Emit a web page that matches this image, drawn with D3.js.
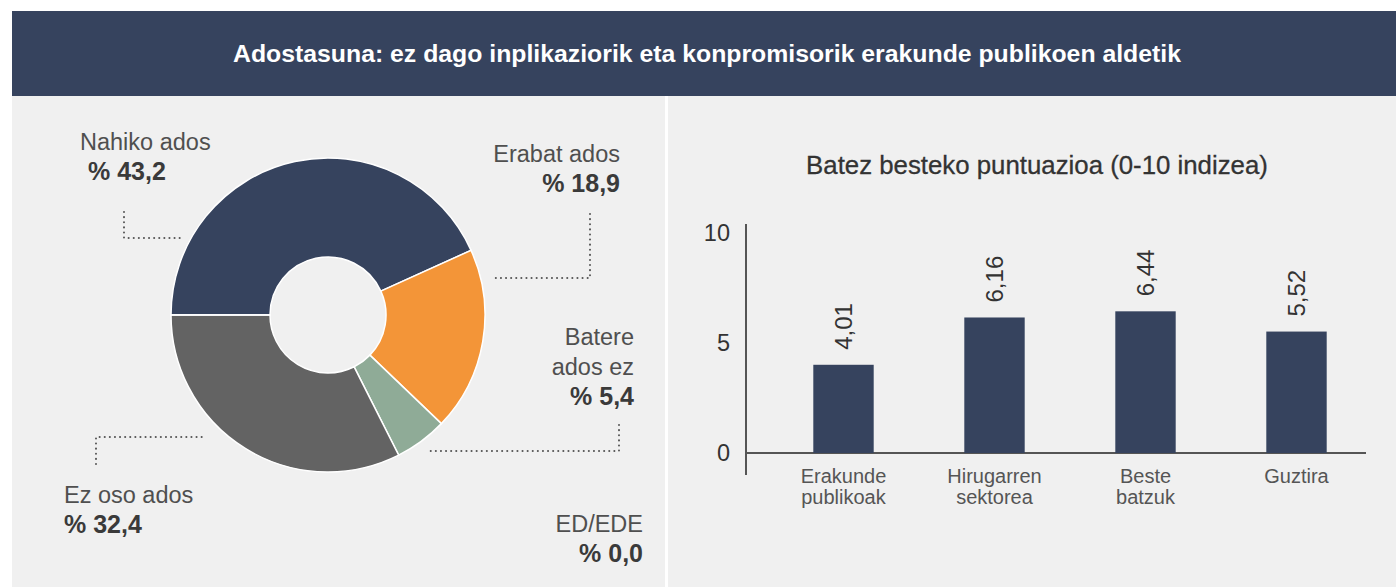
<!DOCTYPE html>
<html>
<head>
<meta charset="utf-8">
<script src="https://cdn.jsdelivr.net/npm/d3@7"></script>
<style>
  body { margin: 0; background: #fff; }
  svg text { font-family: "Liberation Sans", Arial, Helvetica, sans-serif; }
</style>
</head>
<body>
<div class="chart"></div>
<script>
var width = 1396, height = 587;

// --- data ---
var title = "Adostasuna: ez dago inplikaziorik eta konpromisorik erakunde publikoen aldetik";
var pieNames = ["Nahiko ados", "Erabat ados", "Batere ados ez", "Ez oso ados", "ED/EDE"];
var pieValues = [43.2, 18.9, 5.4, 32.4, 0.0];
var pieLabels = ["% 43,2", "% 18,9", "% 5,4", "% 32,4", "% 0,0"];
var pieColors = ["#36435e", "#f39538", "#8fab97", "#636363", "#cccccc"];

var barTitle = "Batez besteko puntuazioa (0-10 indizea)";
var barCats = ["Erakunde publikoak", "Hirugarren sektorea", "Beste batzuk", "Guztira"];
var barLines = [["Erakunde", "publikoak"], ["Hirugarren", "sektorea"], ["Beste", "batzuk"], ["Guztira"]];
var barValues = [4.01, 6.16, 6.44, 5.52];
var barTicks = [0, 5, 10];

var svg = d3.select(".chart")
  .append("svg")
  .attr("width", width)
  .attr("height", height);

// panels
svg.append("rect").attr("x", 12).attr("y", 96).attr("width", 653).attr("height", height - 96).attr("fill", "#f0f0f0");
svg.append("rect").attr("x", 668).attr("y", 96).attr("width", width - 668).attr("height", height - 96).attr("fill", "#f0f0f0");

// header
svg.append("rect").attr("x", 12).attr("y", 11).attr("width", width - 12).attr("height", 85).attr("fill", "#36435e");
svg.append("text")
  .attr("x", 707).attr("y", 62)
  .attr("text-anchor", "middle")
  .attr("fill", "#fff")
  .style("font-size", "24.8px")
  .style("font-weight", "bold")
  .text(title);

// --- pie ---
var cx = 328, cy = 315;
var pie = d3.pie().sort(null).value(function(d){ return d; })
  .startAngle(-Math.PI / 2).endAngle(Math.PI * 1.5);
var arc = d3.arc().innerRadius(58).outerRadius(157);

var pieG = svg.append("g").attr("transform", "translate(" + cx + "," + cy + ")");
pieG.selectAll("path")
  .data(pie(pieValues))
  .enter()
  .append("path")
  .attr("d", arc)
  .attr("fill", function(d, i){ return pieColors[i]; })
  .attr("stroke", "#fff")
  .attr("stroke-width", 1.5);

// labels: name lines, value, anchor
var pieText = [
  { lines: ["Nahiko ados"], x: 80, y: 150, anchor: "start", vx: 88 },
  { lines: ["Erabat ados"], x: 620, y: 162, anchor: "end", vx: 620 },
  { lines: ["Batere", "ados ez"], x: 634, y: 345, anchor: "end", vx: 634 },
  { lines: ["Ez oso ados"], x: 64, y: 503, anchor: "start", vx: 64 },
  { lines: ["ED/EDE"], x: 643, y: 532, anchor: "end", vx: 643 }
];
pieText.forEach(function(t, i){
  var g = svg.append("g");
  t.lines.forEach(function(l, j){
    g.append("text")
      .attr("x", t.x).attr("y", t.y + j * 30)
      .attr("text-anchor", t.anchor)
      .attr("fill", "#4f4f4f")
      .style("font-size", "23.5px")
      .text(l);
  });
  g.append("text")
    .attr("x", t.vx).attr("y", t.y + t.lines.length * 30)
    .attr("text-anchor", t.anchor)
    .attr("fill", "#3a3a3a")
    .style("font-size", "25px")
    .style("font-weight", "bold")
    .text(pieLabels[i]);
});

// dotted leader lines
var leaders = [
  [[124, 212], [124, 238], [180, 238]],
  [[590, 214], [590, 278], [494, 278]],
  [[619, 425], [619, 451], [428, 451]],
  [[96, 464], [96, 437], [203, 437]]
];
var line = d3.line();
svg.selectAll(".leader")
  .data(leaders)
  .enter()
  .append("path")
  .attr("class", "leader")
  .attr("d", line)
  .attr("fill", "none")
  .attr("stroke", "#555")
  .attr("stroke-width", 2)
  .attr("stroke-linecap", "round")
  .attr("stroke-dasharray", "0.1,5");

// --- bars ---
var x = d3.scaleBand().domain(barCats).range([768, 1372]).paddingInner(0.6).paddingOuter(0.3);
var y = d3.scaleLinear().domain([0, 10]).range([453, 233]);

svg.append("text")
  .attr("x", 1037).attr("y", 174)
  .attr("text-anchor", "middle")
  .attr("fill", "#333")
  .attr("stroke", "#333")
  .attr("stroke-width", 0.3)
  .style("font-size", "25.8px")
  .text(barTitle);

svg.append("line")
  .attr("x1", 746).attr("x2", 746).attr("y1", 224).attr("y2", 475)
  .attr("stroke", "#555").attr("stroke-width", 2);
svg.append("line")
  .attr("x1", 746).attr("x2", 1366).attr("y1", y(0)).attr("y2", y(0))
  .attr("stroke", "#555").attr("stroke-width", 2);

svg.selectAll(".ytick")
  .data(barTicks)
  .enter()
  .append("text")
  .attr("class", "ytick")
  .attr("x", 730).attr("y", function(d){ return y(d); })
  .attr("dy", "0.36em")
  .attr("text-anchor", "end")
  .attr("fill", "#333")
  .style("font-size", "23.5px")
  .text(function(d){ return d; });

svg.selectAll(".bar")
  .data(barValues)
  .enter()
  .append("rect")
  .attr("class", "bar")
  .attr("x", function(d, i){ return x(barCats[i]); })
  .attr("y", function(d){ return y(d); })
  .attr("width", x.bandwidth())
  .attr("height", function(d){ return y(0) - y(d); })
  .attr("fill", "#36435e");

svg.selectAll(".val")
  .data(barValues)
  .enter()
  .append("text")
  .attr("class", "val")
  .attr("transform", function(d, i){
    return "translate(" + (x(barCats[i]) + x.bandwidth() / 2) + "," + (y(d) - 15) + ") rotate(-90)";
  })
  .attr("dy", "0.36em")
  .attr("fill", "#333")
  .style("font-size", "24px")
  .text(function(d){ return d.toFixed(2).replace(".", ","); });

barLines.forEach(function(lines, i){
  lines.forEach(function(l, j){
    svg.append("text")
      .attr("x", x(barCats[i]) + x.bandwidth() / 2)
      .attr("y", 483 + j * 21)
      .attr("text-anchor", "middle")
      .attr("fill", "#555")
      .style("font-size", "20px")
      .text(l);
  });
});
</script>
</body>
</html>
